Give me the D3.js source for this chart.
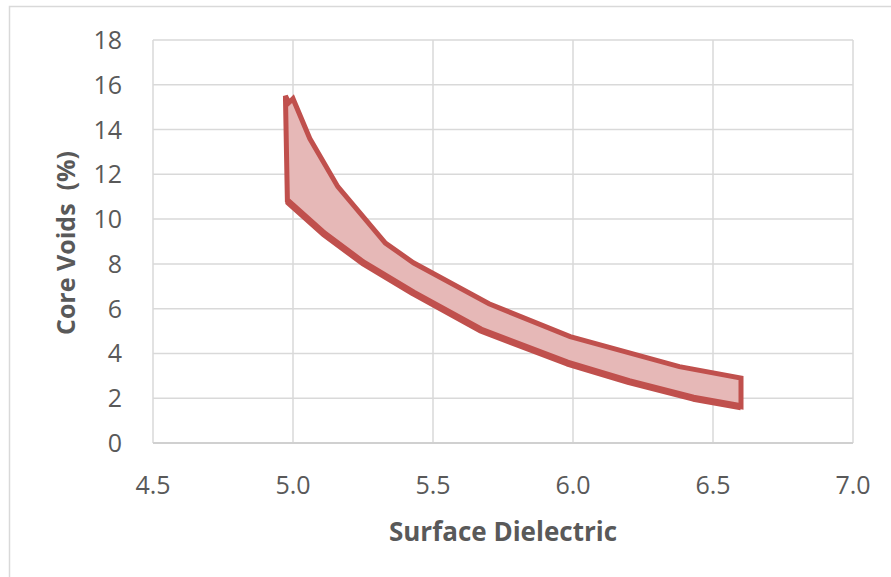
<!DOCTYPE html>
<html><head><meta charset="utf-8">
<script src="https://cdn.jsdelivr.net/npm/d3@7"></script>
<style>body{margin:0;background:#fff}svg{display:block}</style>
</head><body>
<script>
// Data
const xTicks = [4.5, 5.0, 5.5, 6.0, 6.5, 7.0];
const yTicks = [0, 2, 4, 6, 8, 10, 12, 14, 16, 18];
// lower bound curve (left to right)
const lowerX = [4.98, 5.11, 5.25, 5.43, 5.67, 5.98, 6.20, 6.43, 6.60];
const lowerY = [10.8, 9.35, 8.05, 6.70, 5.05, 3.57, 2.74, 2.00, 1.62];
// upper bound curve (right to left)
const upperX = [6.60, 6.38, 5.99, 5.70, 5.43, 5.33, 5.16, 5.06, 5.00, 4.985, 4.973];
const upperY = [2.90, 3.41, 4.75, 6.22, 8.05, 8.93, 11.45, 13.6, 15.38, 15.2, 15.5];

const W = 891, H = 577;
const svg = d3.select("body").append("svg").attr("width", W).attr("height", H);
const font = "'Open Sans', 'Liberation Sans', sans-serif";

svg.append("rect").attr("x", 9.5).attr("y", 6.5).attr("width", 900).attr("height", 600)
  .attr("fill", "#fff").attr("stroke", "#D9D9D9").attr("stroke-width", 1.5);

const x = d3.scaleLinear().domain([4.5, 7.0]).range([153, 853]);
const y = d3.scaleLinear().domain([0, 18]).range([443, 40]);

// gridlines
const g = svg.append("g");
g.selectAll(".hg").data(yTicks).join("line")
  .attr("x1", x(4.5)).attr("x2", x(7.0))
  .attr("y1", d => y(d)).attr("y2", d => y(d))
  .attr("stroke", "#D9D9D9").attr("stroke-width", 1.5);
g.selectAll(".vg").data(xTicks).join("line")
  .attr("y1", y(0)).attr("y2", y(18))
  .attr("x1", d => x(d)).attr("x2", d => x(d))
  .attr("stroke", "#D9D9D9").attr("stroke-width", 1.5);
// bottom axis line
g.append("line").attr("x1", x(4.5)).attr("x2", x(7.0)).attr("y1", y(0)).attr("y2", y(0))
  .attr("stroke", "#D0D0D0").attr("stroke-width", 2);

// tick labels
svg.selectAll(".yt").data(yTicks).join("text")
  .attr("x", 122).attr("y", d => y(d)).attr("dy", "0.36em")
  .attr("text-anchor", "end").attr("font-family", font).attr("font-size", 25)
  .attr("fill", "#595959").text(d => d);
svg.selectAll(".xt").data(xTicks).join("text")
  .attr("x", d => x(d)).attr("y", 494)
  .attr("text-anchor", "middle").attr("font-family", font).attr("font-size", 25)
  .attr("fill", "#595959").text(d => d.toFixed(1));

// axis titles
svg.append("text").attr("x", 503).attr("y", 541).attr("text-anchor", "middle")
  .attr("font-family", font).attr("font-weight", "bold").attr("font-size", 26)
  .attr("fill", "#595959").text("Surface Dielectric");
svg.append("text").attr("transform", "translate(75,243) rotate(-90)").attr("text-anchor", "middle")
  .attr("font-family", font).attr("font-weight", "bold").attr("font-size", 25)
  .attr("fill", "#595959").attr("xml:space", "preserve").style("white-space", "pre")
  .text("Core Voids  (%)");

// band polygon
const lower = lowerX.map((v, i) => [v, lowerY[i]]);
const upper = upperX.map((v, i) => [v, upperY[i]]);
const poly = lower.concat(upper);
const line = d3.line().x(d => x(d[0])).y(d => y(d[1]));
svg.append("path").attr("d", line(poly) + "Z")
  .attr("fill", "#E6B8B7").attr("stroke", "#C0504D").attr("stroke-width", 5)
  .attr("stroke-linejoin", "miter");
svg.append("path").attr("d", line(lower))
  .attr("fill", "none").attr("stroke", "#C0504D").attr("stroke-width", 7)
  .attr("stroke-linejoin", "round");
</script>
</body></html>
